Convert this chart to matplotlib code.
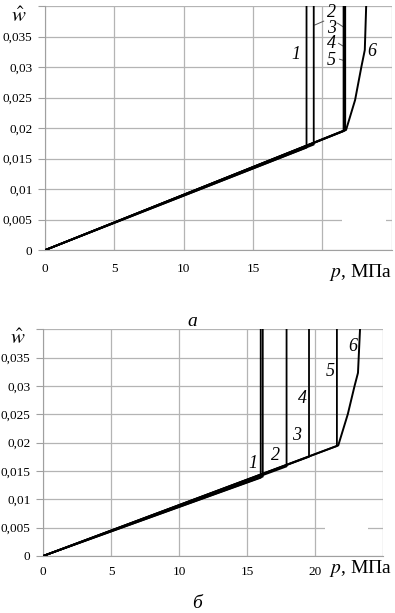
import matplotlib
matplotlib.use("Agg")
import matplotlib.pyplot as plt
from matplotlib.patches import Rectangle

plt.rcParams['font.family'] = ['Liberation Serif', 'DejaVu Serif']
plt.rcParams['mathtext.fontset'] = 'stix'

# panel a: breaking points of curves 1-5 and curve 6
p_a = [18.85, 19.37, 21.52, 21.58, 21.64]
w_a = [0.0168, 0.0173, 0.0195, 0.0196, 0.0197]
p6_a = [0, 21.7, 22.35, 22.8, 23.05, 23.15]
w6_a = [0, 0.0197, 0.0246, 0.030, 0.0328, 0.04]

# panel b
p_b = [16.0, 16.15, 17.9, 19.55, 21.6]
w_b = [0.0138, 0.0140, 0.0158, 0.0175, 0.0194]
p6_b = [0, 21.7, 22.4, 22.9, 23.15, 23.3]
w6_b = [0, 0.0195, 0.025, 0.030, 0.0323, 0.04]

w_top = 0.04
yticks = [0, 0.005, 0.01, 0.015, 0.02, 0.025, 0.03, 0.035]
ylabels = ['0', '0,005', '0,01', '0,015', '0,02', '0,025', '0,03', '0,035']
xticks = [0, 5, 10, 15, 20, 25]
xlabels_a = ['0', '5', '10', '15', '', '']
xlabels_b = ['0', '5', '10', '15', '20', '']

labels_a = [('1', 18.08, 0.0321), ('2', 20.66, 0.0390), ('3', 20.66, 0.0364),
            ('4', 20.66, 0.0338), ('5', 20.66, 0.0311), ('6', 23.53, 0.0326)]
leaders_a = [((19.44, 20.09), (0.0369, 0.03754)), ((21.09, 21.52), (0.0372, 0.03656)),
             ((21.16, 21.52), (0.0339, 0.0334)), ((21.23, 21.52), (0.0313, 0.0311))]
labels_b = [('1', 15.44, 0.0163), ('2', 17.06, 0.0177), ('3', 18.6, 0.0212),
            ('4', 19.04, 0.0277), ('5', 21.1, 0.0325), ('6', 22.8, 0.037)]

fig = plt.figure(figsize=(3.95, 6.13), dpi=100)
ax1 = fig.add_axes([0.114, 0.592, 0.878, 0.398])
ax2 = fig.add_axes([0.109, 0.093, 0.861, 0.370])


def setup(ax, xlabels, gap, xpad, plab_x, plab_y):
    ax.set_xlim(0, 25)
    ax.set_ylim(0, w_top)
    ax.set_xticks(xticks)
    ax.set_xticklabels(xlabels)
    ax.set_yticks(yticks + [w_top])
    ax.set_yticklabels(ylabels + [''])
    ax.grid(True, color='#b4b4b4', lw=0.9)
    ax.set_axisbelow(True)
    for s in ax.spines.values():
        s.set_visible(False)
    ax.spines['left'].set_visible(True)
    ax.spines['left'].set_color('#a0a0a0')
    ax.spines['bottom'].set_visible(True)
    ax.spines['bottom'].set_color('#a0a0a0')
    ax.tick_params(axis='y', length=5, color='#a0a0a0', labelsize=9.5, pad=4)
    ax.tick_params(axis='x', length=0, labelsize=9.5, pad=xpad)
    ax.add_patch(Rectangle((gap[0], 0.0043), gap[1] - gap[0], 0.0014,
                           facecolor='white', edgecolor='none', zorder=1))
    ax.text(-0.075, 0.955, r'$\hat{w}$', transform=ax.transAxes, fontsize=15,
            ha='center', va='center')
    ax.text(plab_x, plab_y, r'$p$, МПа', transform=ax.transAxes, fontsize=14,
            ha='right', va='center')


setup(ax1, xlabels_a, (21.4, 24.6), 9, 1.0, -0.09)
setup(ax2, xlabels_b, (20.7, 23.9), 7, 1.026, -0.053)

for p, w in zip(p_a, w_a):
    ax1.plot([0, p, p], [0, w, w_top], color='black', lw=1.3, zorder=3)
ax1.plot(p6_a, w6_a, color='black', lw=1.4, zorder=3)
for t, x, y in labels_a:
    ax1.text(x, y, t, fontsize=13, style='italic', ha='center', va='center')
for xs, ys in leaders_a:
    ax1.plot(xs, ys, color='#555555', lw=0.7)

for p, w in zip(p_b, w_b):
    ax2.plot([0, p, p], [0, w, w_top], color='black', lw=1.3, zorder=3)
ax2.plot(p6_b, w6_b, color='black', lw=1.4, zorder=3)
for t, x, y in labels_b:
    ax2.text(x, y, t, fontsize=13, style='italic', ha='center', va='center')

fig.text(192 / 395, 1 - 322 / 613, 'а', fontsize=14, style='italic', ha='center', va='center')
fig.text(197 / 395, 1 - 603 / 613, 'б', fontsize=14, style='italic', ha='center', va='center')

fig.savefig('out.png', dpi=100)
